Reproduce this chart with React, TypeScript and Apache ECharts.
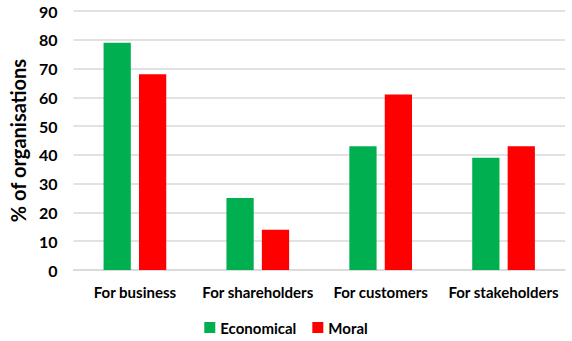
import React, { useEffect, useRef } from "react";
import * as echarts from "echarts";

const categories = ["For business", "For shareholders", "For customers", "For stakeholders"];
const economical = [79, 25, 43, 39];
const moral = [68, 14, 61, 43];
const yTicks = { min: 0, max: 90, interval: 10 };

export default function App() {
  const ref = useRef<HTMLDivElement>(null);
  useEffect(() => {
    const chart = echarts.init(ref.current!, null, { renderer: "svg" });
    const font = "Lato, 'Open Sans', sans-serif";
    chart.setOption({
      animation: false,
      textStyle: { fontFamily: font },
      grid: { left: 71, right: 7, top: 11, bottom: 71 },
      legend: {
        top: 315,
        left: "center",
        itemWidth: 11,
        itemHeight: 11,
        itemGap: 16,
        icon: "rect",
        textStyle: { fontSize: 15, fontWeight: "bold", color: "#000", fontFamily: font },
        data: ["Economical", "Moral"],
      },
      xAxis: {
        type: "category",
        data: categories,
        axisLine: { show: true, lineStyle: { color: "#d9d9d9", width: 1.5 } },
        axisTick: { show: false },
        axisLabel: { interval: 0, fontSize: 15, fontWeight: "bold", color: "#000", margin: 14, fontFamily: font },
      },
      yAxis: {
        type: "value",
        min: yTicks.min,
        max: yTicks.max,
        interval: yTicks.interval,
        name: "% of organisations",
        nameLocation: "middle",
        nameGap: 44,
        nameTextStyle: { fontSize: 20, fontWeight: "bold", color: "#000", fontFamily: font },
        axisLine: { show: false },
        axisTick: { show: false },
        axisLabel: { fontSize: 16, fontWeight: "bold", color: "#000", margin: 16, fontFamily: font },
        splitLine: { lineStyle: { color: "#d9d9d9", width: 1.5 } },
      },
      series: [
        {
          name: "Economical",
          type: "bar",
          data: economical,
          itemStyle: { color: "#00b050" },
          barGap: "30%",
          barCategoryGap: "49%",
        },
        {
          name: "Moral",
          type: "bar",
          data: moral,
          itemStyle: { color: "#ff0000" },
          barGap: "30%",
          barCategoryGap: "49%",
        },
      ],
    });
    return () => chart.dispose();
  }, []);
  return <div ref={ref} style={{ position: "absolute", left: 0, top: 0, width: 572, height: 341 }} />;
}
